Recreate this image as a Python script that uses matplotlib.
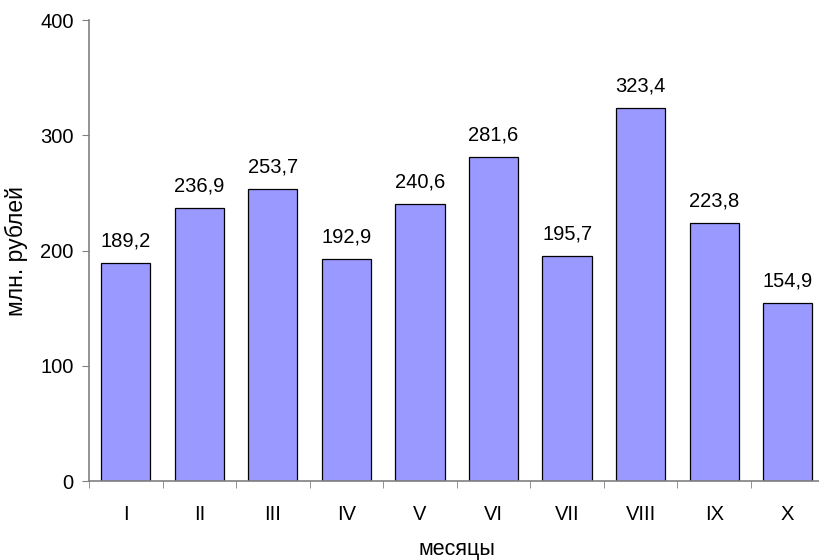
import matplotlib
matplotlib.use("Agg")
import matplotlib.pyplot as plt

# данные
months = ['I', 'II', 'III', 'IV', 'V', 'VI', 'VII', 'VIII', 'IX', 'X']
values = [189.2, 236.9, 253.7, 192.9, 240.6, 281.6, 195.7, 323.4, 223.8, 154.9]

plt.rcParams['font.family'] = ['Liberation Sans', 'DejaVu Sans']

fig = plt.figure(figsize=(8.2, 5.6), dpi=100)
ax = fig.add_axes([0.1085, 0.141, 0.897, 0.823])

x = list(range(len(months)))
bars = ax.bar(x, values, width=0.67, color='#9999FF', edgecolor='black', linewidth=0.9)

for xi, v in zip(x, values):
    ax.annotate(f"{v:.1f}".replace('.', ','), (xi, v), xytext=(0, 9),
                textcoords='offset points', ha='center', va='bottom', fontsize=14.5)

ax.set_xlim(-0.5, len(months) - 0.5)
ax.set_ylim(0, 400)
ax.set_yticks([0, 100, 200, 300, 400])
ax.set_xticks(x)
ax.set_xticklabels(months)
ax.set_xticks([i - 0.5 for i in range(len(months) + 1)], minor=True)
ax.tick_params(axis='x', which='major', length=0, pad=17, labelsize=14.5)
ax.tick_params(axis='x', which='minor', length=5, direction='out', color='#808080')
ax.tick_params(axis='y', length=5, direction='out', color='#808080', labelsize=14.5, pad=6)

for s in ['top', 'right']:
    ax.spines[s].set_visible(False)
for s in ['left', 'bottom']:
    ax.spines[s].set_color('#808080')
    ax.spines[s].set_linewidth(1.2)

ax.set_xlabel('месяцы', fontsize=15.5, labelpad=11)
ax.set_ylabel('млн. рублей', fontsize=16.5, labelpad=9)

fig.savefig('out.png', dpi=100)
